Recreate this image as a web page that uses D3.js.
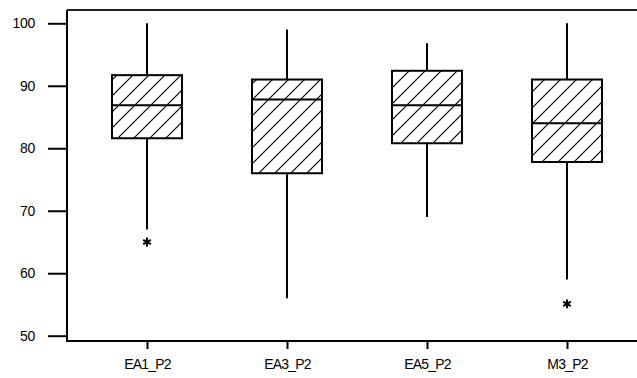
<!DOCTYPE html>
<html>
<head>
<meta charset="utf-8">
<script src="https://cdn.jsdelivr.net/npm/d3@7"></script>
<style>
  body { margin: 0; background: #fff; }
  text { font-family: "Liberation Sans", Arial, sans-serif; fill: #000; }
</style>
</head>
<body>
<svg id="chart" width="637" height="378"></svg>
<script>
'use strict'

// data
var categories = ["EA1_P2", "EA3_P2", "EA5_P2", "M3_P2"]
var whiskerLow = [67, 56, 69, 59]
var q1 = [81.6, 76, 80.8, 77.8]
var median = [86.9, 87.8, 86.9, 84]
var q3 = [91.7, 91, 92.4, 91]
var whiskerHigh = [100, 99, 96.8, 100]
var outliers = [[65], [], [], [55.1]]
var yTicks = [50, 60, 70, 80, 90, 100]

var svg = d3.select("#chart")

var frame = { left: 67, top: 10, right: 640, bottom: 341 }

var y = d3.scaleLinear().domain([50, 100]).range([335.7, 23.3])
var x = d3.scalePoint().domain(categories).range([147, 567])
var boxW = 70

// hatch pattern
var pat = svg.append("defs").append("pattern")
  .attr("id", "hatch")
  .attr("patternUnits", "userSpaceOnUse")
  .attr("width", 16)
  .attr("height", 16)
pat.append("rect").attr("width", 16).attr("height", 16).attr("fill", "#fff")
pat.append("path")
  .attr("d", "M0,16 L16,0 M-4,4 L4,-4 M12,20 L20,12")
  .attr("stroke", "#000")
  .attr("stroke-width", 1.2)

var boxes = categories.map(function(c, i) {
  return { name: c, lo: whiskerLow[i], q1: q1[i], med: median[i], q3: q3[i], hi: whiskerHigh[i], out: outliers[i] }
})

var g = svg.append("g")

// whiskers
g.selectAll(".wh-top").data(boxes).join("line")
  .attr("x1", d => x(d.name)).attr("x2", d => x(d.name))
  .attr("y1", d => y(d.hi)).attr("y2", d => y(d.q3))
  .attr("stroke", "#000").attr("stroke-width", 2)
g.selectAll(".wh-bot").data(boxes).join("line")
  .attr("x1", d => x(d.name)).attr("x2", d => x(d.name))
  .attr("y1", d => y(d.q1)).attr("y2", d => y(d.lo))
  .attr("stroke", "#000").attr("stroke-width", 2)

// boxes
g.selectAll(".box").data(boxes).join("rect")
  .attr("x", d => x(d.name) - boxW / 2)
  .attr("width", boxW)
  .attr("y", d => y(d.q3))
  .attr("height", d => y(d.q1) - y(d.q3))
  .attr("fill", "url(#hatch)")
  .attr("stroke", "#000").attr("stroke-width", 2)

// medians
g.selectAll(".med").data(boxes).join("line")
  .attr("x1", d => x(d.name) - boxW / 2).attr("x2", d => x(d.name) + boxW / 2)
  .attr("y1", d => y(d.med)).attr("y2", d => y(d.med))
  .attr("stroke", "#000").attr("stroke-width", 2)

// outliers
var star = d3.symbol(d3.symbolAsterisk, 55)
var outPts = []
boxes.forEach(function(d) { d.out.forEach(function(v) { outPts.push({ name: d.name, v: v }) }) })
g.selectAll(".out").data(outPts).join("path")
  .attr("d", star)
  .attr("transform", d => "translate(" + x(d.name) + "," + y(d.v) + ")")
  .attr("fill", "none").attr("stroke", "#000").attr("stroke-width", 2)

// frame
svg.append("line")
  .attr("x1", frame.left).attr("x2", frame.right)
  .attr("y1", frame.top).attr("y2", frame.top)
  .attr("stroke", "#222").attr("stroke-width", 2)
svg.append("path")
  .attr("d", "M" + frame.left + "," + frame.top + "V" + frame.bottom + "H" + frame.right)
  .attr("fill", "none").attr("stroke", "#000").attr("stroke-width", 2)

// y axis
var yAxis = d3.axisLeft(y).tickValues(yTicks).tickSize(19).tickPadding(13)
var ya = svg.append("g").attr("transform", "translate(" + frame.left + ",0)").call(yAxis)
ya.select(".domain").remove()
ya.selectAll(".tick line").attr("stroke", "#000").attr("stroke-width", 2)
ya.selectAll(".tick text")
  .style("font-family", '"Liberation Sans", Arial, sans-serif')
  .style("font-size", "14px")
  .style("letter-spacing", "-0.3px")
  .attr("fill", "#000")

// x axis
var xAxis = d3.axisBottom(x).tickSize(8).tickPadding(10)
var xa = svg.append("g").attr("transform", "translate(0," + frame.bottom + ")").call(xAxis)
xa.select(".domain").remove()
xa.selectAll(".tick line").attr("stroke", "#000").attr("stroke-width", 2)
xa.selectAll(".tick text")
  .style("font-family", '"Liberation Sans", Arial, sans-serif')
  .style("font-size", "14px")
  .style("letter-spacing", "-0.8px")
  .attr("fill", "#000")
</script>
</body>
</html>
